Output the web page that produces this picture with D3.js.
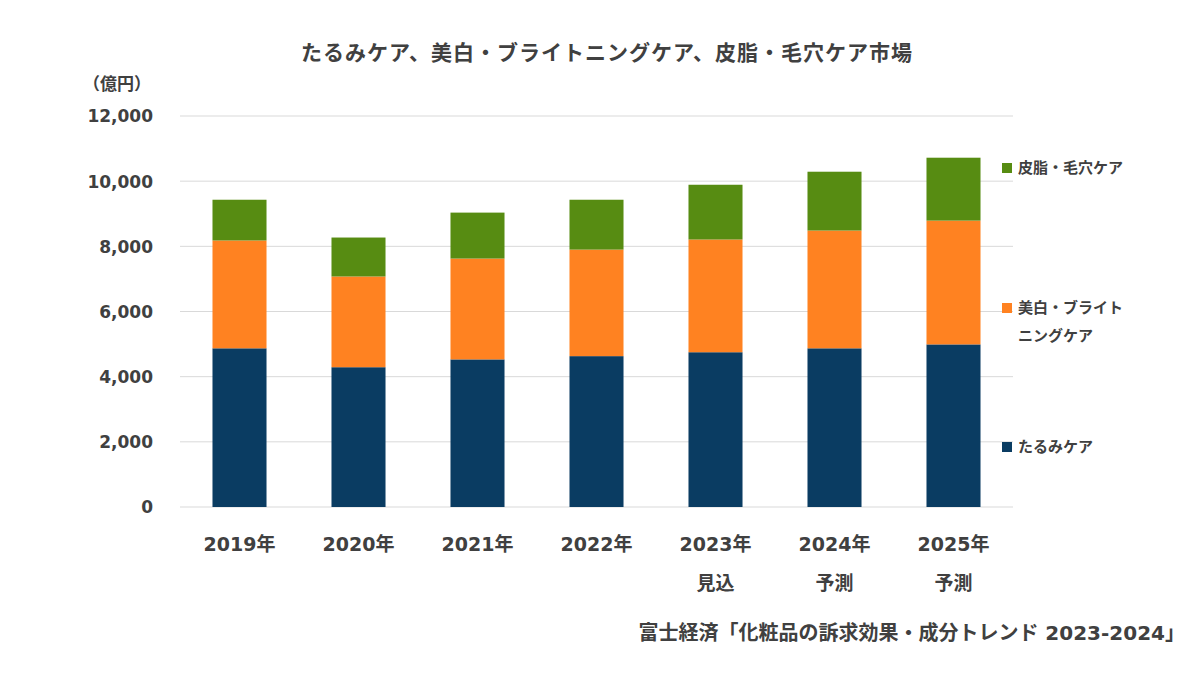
<!DOCTYPE html>
<html lang="ja">
<head>
<meta charset="utf-8">
<title>たるみケア、美白・ブライトニングケア、皮脂・毛穴ケア市場</title>
<script src="https://cdn.jsdelivr.net/npm/d3@7"></script>
<style>
  body { margin: 0; background: #fff; }
  text { font-family: "DejaVu Sans", "Noto Sans CJK JP", sans-serif; fill: #404040; font-weight: bold; }
</style>
</head>
<body>
<script>
// data (億円)
var years = ["2019年", "2020年", "2021年", "2022年", "2023年", "2024年", "2025年"];
var subLabels = ["", "", "", "", "見込", "予測", "予測"];
var tarumi = [4870, 4290, 4530, 4630, 4750, 4870, 4990];
var bihaku = [3310, 2785, 3095, 3270, 3460, 3615, 3800];
var hishi = [1250, 1195, 1410, 1530, 1680, 1805, 1930];
var yTicks = [0, 2000, 4000, 6000, 8000, 10000, 12000];

var seriesNames = ["tarumi", "bihaku", "hishi"];
var colors = { tarumi: "#0a3c62", bihaku: "#ff8221", hishi: "#578c12" };

var rows = years.map(function(y, i) {
  return { year: y, tarumi: tarumi[i], bihaku: bihaku[i], hishi: hishi[i] };
});

var W = 1200, H = 675;
var svg = d3.select("body").append("svg").attr("width", W).attr("height", H);

var x = d3.scaleBand().domain(years).range([180, 1013]).paddingInner(0.546).paddingOuter(0.273);
var y = d3.scaleLinear().domain([0, 12000]).range([507, 116]);

// gridlines
svg.append("g").selectAll("line").data(yTicks).enter().append("line")
  .attr("x1", 180).attr("x2", 1013)
  .attr("y1", function(d) { return y(d); }).attr("y2", function(d) { return y(d); })
  .attr("stroke", "#d9d9d9").attr("stroke-width", 1);

// y labels
var yAxis = d3.axisLeft(y).tickValues(yTicks).tickSize(0).tickPadding(0).tickFormat(d3.format(","));
var gy = svg.append("g").attr("transform", "translate(153,0)").call(yAxis);
gy.select(".domain").remove();
gy.selectAll("text").attr("font-size", 17).attr("dy", "0.35em")
  .style("font-family", "'DejaVu Sans', sans-serif").attr("fill", "#404040");

svg.append("text").attr("x", 117).attr("y", 90).attr("text-anchor", "middle")
  .style("font-family", "'Noto Sans CJK JP', sans-serif")
  .attr("font-size", 17).text("（億円）");

// stacked bars
var stack = d3.stack().keys(seriesNames)(rows);
svg.append("g").selectAll("g").data(stack).enter().append("g")
  .attr("fill", function(d) { return colors[d.key]; })
  .selectAll("rect").data(function(d) { return d; }).enter().append("rect")
  .attr("x", function(d) { return x(d.data.year); })
  .attr("width", x.bandwidth())
  .attr("y", function(d) { return y(d[1]); })
  .attr("height", function(d) { return y(d[0]) - y(d[1]); });

// x labels
var gx = svg.append("g");
gx.selectAll("text.yr").data(years).enter().append("text")
  .attr("class", "yr")
  .attr("x", function(d) { return x(d) + x.bandwidth() / 2; })
  .attr("y", 551).attr("text-anchor", "middle").attr("font-size", 19)
  .text(function(d) { return d; });
gx.selectAll("text.sub").data(subLabels).enter().append("text")
  .attr("class", "sub")
  .attr("x", function(d, i) { return x(years[i]) + x.bandwidth() / 2; })
  .attr("y", 590).attr("text-anchor", "middle").attr("font-size", 19)
  .text(function(d) { return d; });

// title
svg.append("text").attr("x", 607).attr("y", 60).attr("text-anchor", "middle")
  .attr("font-size", 21).attr("letter-spacing", 1)
  .text("たるみケア、美白・ブライトニングケア、皮脂・毛穴ケア市場");

// legend
var legend = [
  { key: "hishi", lines: ["皮脂・毛穴ケア"], y: 166 },
  { key: "bihaku", lines: ["美白・ブライト", "ニングケア"], y: 306 },
  { key: "tarumi", lines: ["たるみケア"], y: 445 }
];
var lg = svg.append("g").selectAll("g").data(legend).enter().append("g");
lg.append("rect").attr("x", 1002).attr("y", function(d) { return d.y - 3; })
  .attr("width", 10).attr("height", 10)
  .attr("fill", function(d) { return colors[d.key]; });
lg.each(function(d) {
  d3.select(this).selectAll("text").data(d.lines).enter().append("text")
    .attr("x", 1018).attr("y", function(t, i) { return d.y + 7 + i * 28; })
    .attr("font-size", 15).text(function(t) { return t; });
});

// source
svg.append("text").attr("x", 1185).attr("y", 640).attr("text-anchor", "end")
  .attr("font-size", 20).text("富士経済「化粧品の訴求効果・成分トレンド 2023-2024」");
</script>
</body>
</html>
